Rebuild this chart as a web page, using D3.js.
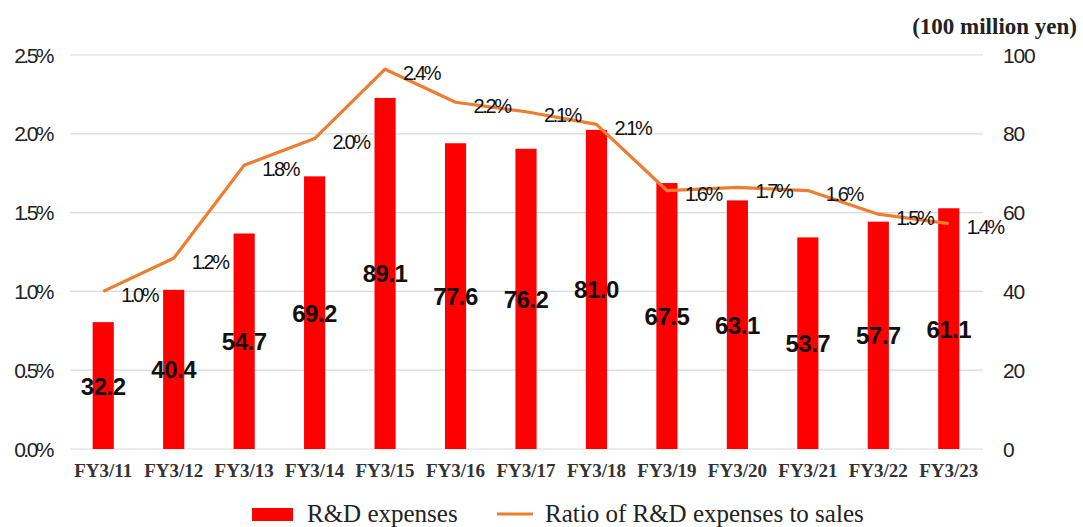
<!DOCTYPE html>
<html>
<head>
<meta charset="utf-8">
<script src="https://cdn.jsdelivr.net/npm/d3@7"></script>
<style>
  html, body { margin: 0; padding: 0; background: #fff; }
  svg { display: block; }
</style>
</head>
<body>
<svg id="chart" width="1083" height="527"></svg>
<script>
// Fiscal years
const years = ["FY3/11","FY3/12","FY3/13","FY3/14","FY3/15","FY3/16","FY3/17",
               "FY3/18","FY3/19","FY3/20","FY3/21","FY3/22","FY3/23"];
// R&D expenses (100 million yen)
const rdExpenses = [32.2, 40.4, 54.7, 69.2, 89.1, 77.6, 76.2, 81.0, 67.5, 63.1, 53.7, 57.7, 61.1];
// Ratio of R&D expenses to sales (%)
const rdRatio = [1.00, 1.21, 1.80, 1.97, 2.41, 2.20, 2.14, 2.06, 1.64, 1.66, 1.64, 1.49, 1.43];
// Axis ticks
const leftTicks = [0, 0.5, 1.0, 1.5, 2.0, 2.5];
const rightTicks = [0, 20, 40, 60, 80, 100];

const svg = d3.select("#chart");
const plotTop = 55, plotBottom = 449, plotLeft = 68, plotRight = 984;

const x = d3.scaleBand().domain(years).range([plotLeft, plotRight])
  .paddingInner(0.7).paddingOuter(0.35);
const yL = d3.scaleLinear().domain([0, 2.5]).range([plotBottom, plotTop]);
const yR = d3.scaleLinear().domain([0, 100]).range([plotBottom, plotTop]);
const cx = d => x(d) + x.bandwidth() / 2;

// gridlines
svg.append("g").selectAll("line").data(leftTicks).join("line")
  .attr("x1", 70).attr("x2", 983)
  .attr("y1", d => yL(d)).attr("y2", d => yL(d))
  .attr("stroke", "#d9d9d9").attr("stroke-width", 1.2);

// left axis labels
svg.append("g").selectAll("text").data(leftTicks).join("text")
  .attr("x", 52).attr("y", d => yL(d) + 7.5)
  .attr("text-anchor", "end")
  .attr("font-family", "Liberation Sans, Arial, sans-serif")
  .attr("font-size", 21).attr("letter-spacing", -2.5)
  .attr("fill", "#222")
  .text(d => d3.format(".1f")(d) + "%");

// right axis labels
svg.append("g").selectAll("text").data(rightTicks).join("text")
  .attr("x", 1003).attr("y", d => yR(d) + 7.5)
  .attr("font-family", "Liberation Sans, Arial, sans-serif")
  .attr("font-size", 21).attr("letter-spacing", -1.2)
  .attr("fill", "#222")
  .text(d => d);

// unit label
svg.append("text")
  .attr("x", 1077).attr("y", 34).attr("text-anchor", "end")
  .attr("font-family", "Liberation Serif, Times New Roman, serif")
  .attr("font-weight", "bold").attr("font-size", 23).attr("fill", "#222")
  .text("(100 million yen)");

// bars
svg.append("g").selectAll("rect").data(years).join("rect")
  .attr("x", d => x(d)).attr("width", x.bandwidth())
  .attr("y", (d, i) => yR(rdExpenses[i]))
  .attr("height", (d, i) => yR(0) - yR(rdExpenses[i]))
  .attr("fill", "#ff0000");

// line
const line = d3.line().x((d, i) => cx(years[i])).y(d => yL(d));
svg.append("path").datum(rdRatio)
  .attr("d", line).attr("fill", "none")
  .attr("stroke", "#ed7d31").attr("stroke-width", 3.2)
  .attr("stroke-linejoin", "round");

// bar value labels (middle of each bar)
svg.append("g").selectAll("text").data(years).join("text")
  .attr("x", d => cx(d))
  .attr("y", (d, i) => yR(rdExpenses[i] / 2) + 9)
  .attr("text-anchor", "middle")
  .attr("font-family", "Liberation Sans, Arial, sans-serif")
  .attr("font-weight", "bold").attr("font-size", 24).attr("letter-spacing", -0.5)
  .attr("fill", "#111")
  .text((d, i) => d3.format(".1f")(rdExpenses[i]));

// ratio labels
svg.append("g").selectAll("text").data(years).join("text")
  .attr("x", d => cx(d) + 18)
  .attr("y", (d, i) => yL(rdRatio[i]) + 10.5)
  .attr("font-family", "Liberation Sans, Arial, sans-serif")
  .attr("font-size", 20).attr("letter-spacing", -2.4)
  .attr("fill", "#111")
  .text((d, i) => d3.format(".1f")(rdRatio[i]) + "%");

// category labels
svg.append("g").selectAll("text").data(years).join("text")
  .attr("x", d => cx(d)).attr("y", 477)
  .attr("text-anchor", "middle")
  .attr("font-family", "Liberation Serif, Times New Roman, serif")
  .attr("font-weight", "bold").attr("font-size", 19)
  .attr("fill", "#333")
  .text(d => d);

// legend
const lg = svg.append("g");
lg.append("rect").attr("x", 252).attr("y", 508).attr("width", 41).attr("height", 13)
  .attr("fill", "#ff0000");
lg.append("text").attr("x", 307).attr("y", 522)
  .attr("font-family", "Liberation Serif, Times New Roman, serif")
  .attr("font-size", 25).attr("fill", "#222").text("R&D expenses");
lg.append("line").attr("x1", 497).attr("x2", 533).attr("y1", 514).attr("y2", 514)
  .attr("stroke", "#ed7d31").attr("stroke-width", 3);
lg.append("text").attr("x", 545).attr("y", 522)
  .attr("font-family", "Liberation Serif, Times New Roman, serif")
  .attr("font-size", 25).attr("fill", "#222").text("Ratio of R&D expenses to sales");
</script>
</body>
</html>
